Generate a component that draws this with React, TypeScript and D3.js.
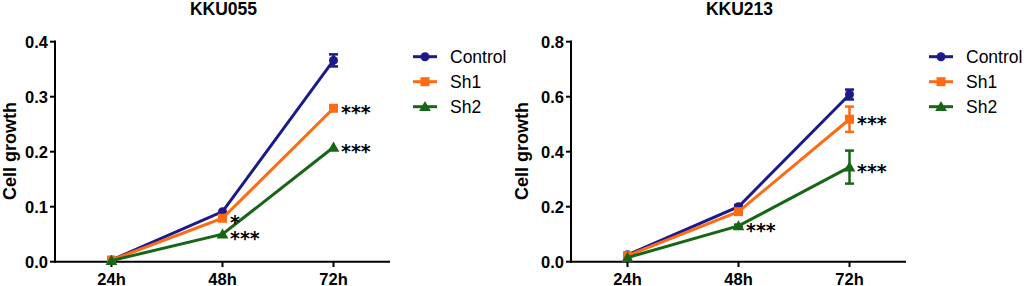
import React from "react";
import * as d3 from "d3";

const categories = ["24h", "48h", "72h"];
const seriesNames = ["Control", "Sh1", "Sh2"];
const colors = ["#1b1a8a", "#ff6a14", "#176617"];

const kku055Values = [
  [0.003, 0.091, 0.366],
  [0.003, 0.079, 0.279],
  [0.002, 0.05, 0.208],
];
const kku055Errors = [
  [0.002, 0.003, 0.011],
  [0.001, 0.002, 0.003],
  [0.001, 0.002, 0.003],
];
const kku055Stars = [
  ["", "", ""],
  ["", "*", "***"],
  ["", "***", "***"],
];
const kku055Ticks = [0, 0.1, 0.2, 0.3, 0.4];

const kku213Values = [
  [0.025, 0.2, 0.608],
  [0.022, 0.182, 0.518],
  [0.015, 0.13, 0.344],
];
const kku213Errors = [
  [0.003, 0.006, 0.018],
  [0.003, 0.006, 0.046],
  [0.002, 0.005, 0.06],
];
const kku213Stars = [
  ["", "", ""],
  ["", "", "***"],
  ["", "***", "***"],
];
const kku213Ticks = [0, 0.2, 0.4, 0.6, 0.8];

const FONT = "Liberation Sans, Arial, Helvetica, sans-serif";
const STAR_FONT = "DejaVu Sans, sans-serif";

function Marker({ kind, x, y, color }: { kind: number; x: number; y: number; color: string }) {
  if (kind === 0) return <circle cx={x} cy={y} r={4.5} fill={color} />;
  if (kind === 1) return <rect x={x - 4.5} y={y - 4.5} width={9} height={9} fill={color} />;
  const sym = d3.symbol().type(d3.symbolTriangle).size(60)();
  return <path d={sym || ""} transform={`translate(${x},${y + 1})`} fill={color} />;
}

function Panel({
  ox,
  title,
  values,
  errors,
  stars,
  ticks,
  yMax,
  axisX,
  xEnd,
  legendX,
}: {
  ox: number;
  title: string;
  values: number[][];
  errors: number[][];
  stars: string[][];
  ticks: number[];
  yMax: number;
  axisX: number;
  xEnd: number;
  legendX: number;
}) {
  const y = d3.scaleLinear().domain([0, yMax]).range([261.7, 41.7]);
  const x = d3.scalePoint<string>().domain(categories).range([axisX + 56.5, axisX + 278.5]);
  const line = d3
    .line<number>()
    .x((_, i) => x(categories[i]) as number)
    .y((d) => y(d));
  return (
    <g>
      <text x={(axisX + xEnd) / 2 + 1} y={14.5} textAnchor="middle" fontFamily={FONT} fontWeight="bold" fontSize={17.5}>
        {title}
      </text>
      {/* y axis */}
      <line x1={axisX} x2={axisX} y1={40.5} y2={262.7} stroke="#000" strokeWidth={2} />
      {ticks.map((t) => (
        <g key={t}>
          <line x1={axisX - 5} x2={axisX} y1={y(t)} y2={y(t)} stroke="#000" strokeWidth={2} />
          <text x={axisX - 7} y={y(t) + 5.8} textAnchor="end" fontFamily={FONT} fontWeight="bold" fontSize={16.5}>
            {t.toFixed(1)}
          </text>
        </g>
      ))}
      {/* x axis */}
      <line x1={axisX - 1} x2={xEnd} y1={261.7} y2={261.7} stroke="#000" strokeWidth={2} />
      {categories.map((c) => (
        <g key={c}>
          <line x1={x(c)} x2={x(c)} y1={261.7} y2={267} stroke="#000" strokeWidth={2} />
          <text x={x(c)} y={284.5} textAnchor="middle" fontFamily={FONT} fontWeight="bold" fontSize={16.5}>
            {c}
          </text>
        </g>
      ))}
      <text
        transform={`translate(${ox + 16},${151}) rotate(-90)`}
        textAnchor="middle"
        fontFamily={FONT}
        fontWeight="bold"
        fontSize={18}
      >
        Cell growth
      </text>
      {/* series */}
      {values.map((vals, si) => (
        <g key={si}>
          <path d={line(vals) || ""} fill="none" stroke={colors[si]} strokeWidth={3} />
          {vals.map((v, i) => {
            const cx = x(categories[i]) as number;
            const e = errors[si][i];
            return (
              <g key={i}>
                {e > 0.004 && (
                  <g stroke={colors[si]} strokeWidth={2.5}>
                    <line x1={cx} x2={cx} y1={y(v - e)} y2={y(v + e)} />
                    <line x1={cx - 4.5} x2={cx + 4.5} y1={y(v - e)} y2={y(v - e)} />
                    <line x1={cx - 4.5} x2={cx + 4.5} y1={y(v + e)} y2={y(v + e)} />
                  </g>
                )}
                <Marker kind={si} x={cx} y={y(v)} color={colors[si]} />
              </g>
            );
          })}
        </g>
      ))}
      {/* significance stars */}
      {stars.map((row, si) =>
        row.map((s, i) =>
          s ? (
            <text
              key={`${si}-${i}`}
              x={(x(categories[i]) as number) + 7.5}
              y={y(values[si][i]) + 11}
              fontFamily={STAR_FONT}
              fontWeight="bold"
              fontSize={19}
            >
              {s}
            </text>
          ) : null
        )
      )}
      {/* legend */}
      {seriesNames.map((n, si) => {
        const ly = 56.7 + si * 25;
        return (
          <g key={n}>
            <line x1={legendX} x2={legendX + 24} y1={ly} y2={ly} stroke={colors[si]} strokeWidth={3} />
            <Marker kind={si} x={legendX + 12} y={ly} color={colors[si]} />
            <text x={legendX + 37} y={ly + 6.5} fontFamily={FONT} fontSize={17.5}>
              {n}
            </text>
          </g>
        );
      })}
    </g>
  );
}

export default function App() {
  return (
    <svg width={1024} height={286} style={{ position: "absolute", left: 0, top: 0, background: "#fff" }}>
      <rect width={1024} height={286} fill="#fff" />
      <Panel
        ox={0}
        title="KKU055"
        values={kku055Values}
        errors={kku055Errors}
        stars={kku055Stars}
        ticks={kku055Ticks}
        yMax={0.4}
        axisX={55}
        xEnd={390}
        legendX={413}
      />
      <Panel
        ox={512}
        title="KKU213"
        values={kku213Values}
        errors={kku213Errors}
        stars={kku213Stars}
        ticks={kku213Ticks}
        yMax={0.8}
        axisX={571}
        xEnd={906}
        legendX={929}
      />
    </svg>
  );
}
